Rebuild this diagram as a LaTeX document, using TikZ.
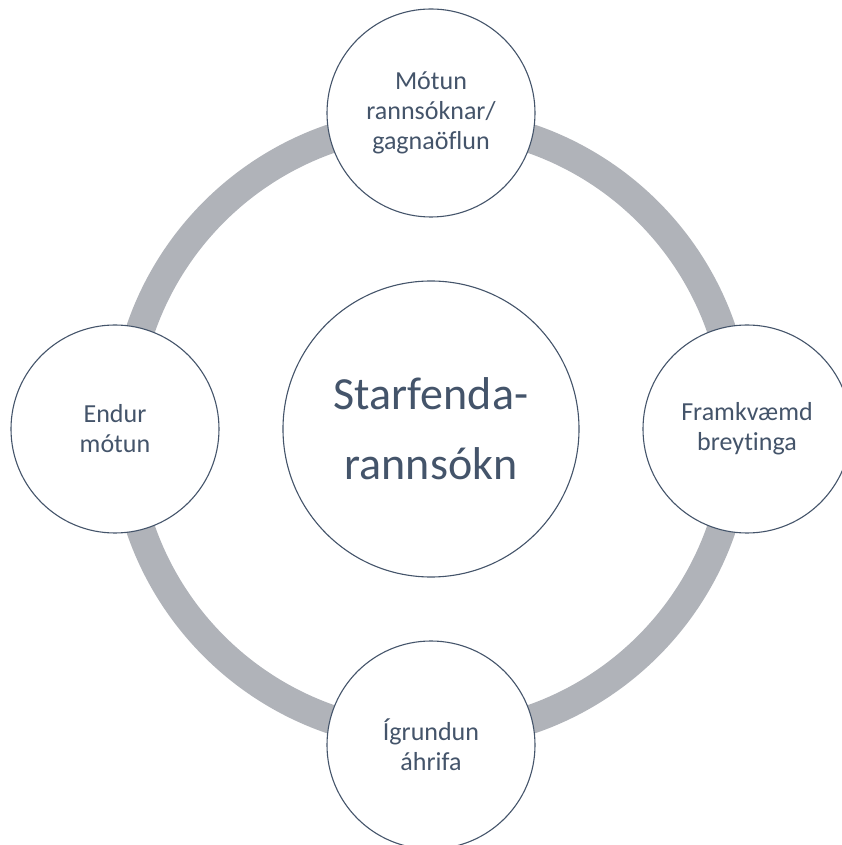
\documentclass[tikz,border=0pt]{standalone}
\usepackage{fontspec}
\setmainfont{Carlito}[Ligatures=NoCommon]
\usepackage{tikz}
\definecolor{accent}{HTML}{44546A}
\definecolor{ringgray}{HTML}{B0B3B9}

\begin{document}
\begin{tikzpicture}[x=1pt,y=1pt,
  stage/.style={circle,draw=accent,line width=1.1pt,fill=white,text=accent,
    align=center,inner sep=0pt,minimum size=208pt,
    font=\fontsize{26}{30}\selectfont}]
  \useasboundingbox (-431,-416) rectangle (410,429);
  \draw[ringgray,line width=29pt] (0,0) circle (307);
  \node[stage,minimum size=296pt,font=\fontsize{46}{70}\selectfont] (hub) at (0,0) {Starfenda-\\rannsókn};
  \foreach \ang/\name/\lbl in {90/motun/{Mótun\\rannsóknar/\\gagnaöflun},
      0/framkvaemd/{Framkvæmd\\breytinga}, 270/igrundun/{Ígrundun\\áhrifa},
      180/endurmotun/{Endur\\mótun}} {
    \node[stage] (\name) at (\ang:316) {\lbl};
  }
\end{tikzpicture}
\end{document}
